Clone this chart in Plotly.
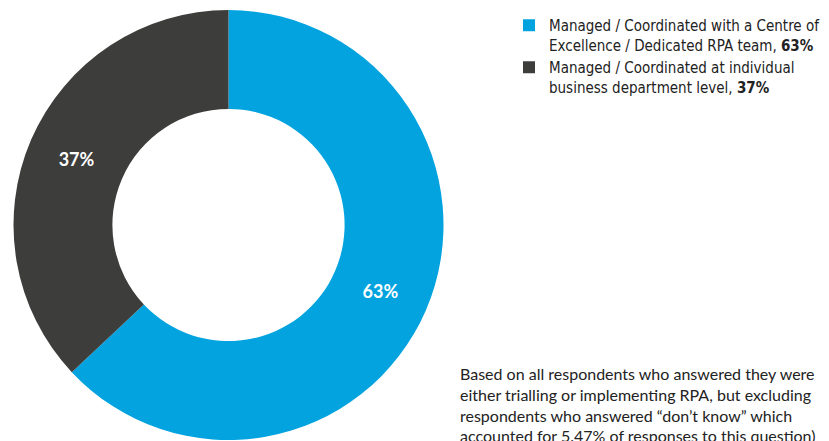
import plotly.graph_objects as go

# Données
categories = [
    "Managed / Coordinated with a Centre of<br>Excellence / Dedicated RPA team, <b>63%</b>",
    "Managed / Coordinated at individual<br>business department level, <b>37%</b>",
]
valeurs = [63, 37]
couleurs = ["#02A3DF", "#3D3D3B"]

note = (
    "Based on all respondents who answered they were<br>"
    "either trialling or implementing RPA, but excluding<br>"
    "respondents who answered \u201cdon\u2019t know\u201d which<br>"
    "accounted for 5.47% of responses to this question)"
)

fig = go.Figure(data=[
    go.Pie(
        labels=categories,
        values=valeurs,
        hole=0.54,
        sort=False,
        direction="clockwise",
        rotation=0,
        marker=dict(colors=couleurs, line=dict(width=0)),
        texttemplate="%{percent:.0%}",
        textposition="inside",
        insidetextorientation="horizontal",
        textfont=dict(family="Lato", size=18, color="white", weight="bold"),
        domain=dict(x=[13 / 829, 444 / 829], y=[1 / 441, 431 / 441]),
    )
])

# Note de bas de page (coupée en bas comme sur l'original)
fig.add_annotation(
    text=note,
    x=458 / 829, y=1 - 362 / 441,
    xref="paper", yref="paper",
    xanchor="left", yanchor="top",
    align="left", showarrow=False,
    font=dict(family="Lato", size=16, color="#222222"),
)

fig.update_layout(
    width=829,
    height=441,
    margin=dict(l=0, r=0, t=0, b=0),
    paper_bgcolor="white",
    plot_bgcolor="white",
    showlegend=True,
    legend=dict(
        x=509 / 829, y=1 - 9 / 441,
        xanchor="left", yanchor="top",
        valign="top",
        font=dict(family="DejaVu Sans Condensed, Roboto", size=15, color="#222222"),
        bgcolor="rgba(0,0,0,0)",
    ),
)

fig.write_html(
    "out.html",
    config={"displayModeBar": False},
    post_script="document.body.style.margin='0';",
)
